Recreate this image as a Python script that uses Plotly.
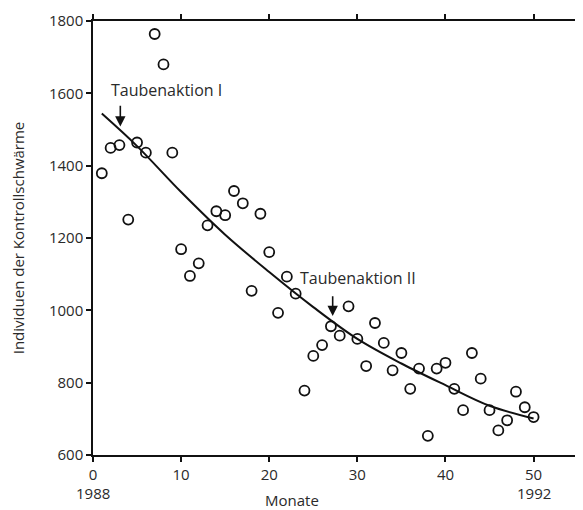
import plotly.graph_objects as go

# Observed data (month index, individuals)
months = list(range(1, 51))
individuals = [1379, 1449, 1457, 1251, 1464, 1436, 1764, 1680, 1436, 1169,
               1095, 1130, 1235, 1274, 1263, 1330, 1296, 1054, 1267, 1161,
               993, 1093, 1046, 778, 874, 904, 956, 930, 1011, 921,
               846, 965, 910, 834, 882, 783, 839, 653, 839, 855,
               783, 724, 882, 811, 724, 668, 696, 775, 732, 705]

# Fitted trend curve
curve_x = [1, 5, 10, 15, 20, 25, 30, 35, 40, 45, 50]
curve_y = [1544, 1454, 1327, 1209, 1106, 1009, 921, 853, 793, 736, 701]

# Annotations
ann_labels = ["Taubenaktion I", "Taubenaktion II"]
ann_x = [3.1, 27.2]
ann_tip_y = [1508, 984]
ann_tail_y = [1570, 1043]
ann_text_x = [8.3, 30.1]
ann_text_y = [1609, 1090]

x_ticks = [0, 10, 20, 30, 40, 50]
y_ticks = [600, 800, 1000, 1200, 1400, 1600, 1800]
year_labels = ["1988", "1992"]
year_x = [0, 50]

FONT = "Open Sans"
TXT = "#2a2a2a"

fig = go.Figure()
fig.add_trace(go.Scatter(x=curve_x, y=curve_y, mode="lines",
                         line=dict(color="#111", width=2, shape="spline", smoothing=1.0),
                         hoverinfo="skip", showlegend=False))
fig.add_trace(go.Scatter(x=months, y=individuals, mode="markers",
                         marker=dict(symbol="circle-open", size=10, color="#111",
                                     line=dict(width=1.8, color="#111")),
                         showlegend=False))

annotations = []
for lab, ax_, tip, tail, tx, ty in zip(ann_labels, ann_x, ann_tip_y, ann_tail_y, ann_text_x, ann_text_y):
    annotations.append(dict(x=ax_, y=tip, ax=ax_, ay=tail, xref="x", yref="y",
                            axref="x", ayref="y", showarrow=True, arrowhead=2,
                            arrowsize=1.3, arrowwidth=1.6, arrowcolor="#111", text=""))
    annotations.append(dict(x=tx, y=ty, xref="x", yref="y", text=lab, showarrow=False,
                            font=dict(family=FONT, size=16, color=TXT)))
for lab, yx in zip(year_labels, year_x):
    annotations.append(dict(x=yx, y=0, xref="x", yref="paper", yanchor="middle",
                            yshift=-38, text=lab, showarrow=False,
                            font=dict(family=FONT, size=15, color=TXT)))
annotations.append(dict(x=22.6, y=0, xref="x", yref="paper", yanchor="middle",
                        yshift=-45, text="Monate", showarrow=False,
                        font=dict(family=FONT, size=15, color=TXT)))

# the page body adds an 8px offset, so the figure is sized to fit the window
fig.update_layout(
    width=575, height=502,
    margin=dict(l=85, r=8, t=13, b=55),
    paper_bgcolor="white", plot_bgcolor="white",
    font=dict(family=FONT, size=15, color=TXT),
    annotations=annotations,
    xaxis=dict(range=[0, 54.7], tickvals=x_ticks, showgrid=False, zeroline=False,
               showline=True, linecolor="#111", linewidth=1.5, mirror="ticks",
               ticks="outside", ticklen=5, tickwidth=1.5, tickcolor="#111",
               automargin=False),
    yaxis=dict(range=[600, 1800], tickvals=y_ticks, showgrid=False, zeroline=False,
               showline=True, linecolor="#111", linewidth=1.5, mirror="ticks",
               ticks="outside", ticklen=5, tickwidth=1.5, tickcolor="#111",
               automargin=False,
               title=dict(text="Individuen der Kontrollschwärme", standoff=24,
                          font=dict(family=FONT, size=15, color=TXT))),
)
fig.write_html("out.html")
